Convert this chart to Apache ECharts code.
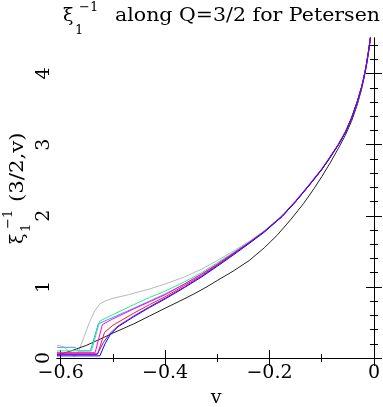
<!DOCTYPE html>
<html>
<head>
<meta charset="utf-8">
<script src="https://cdn.jsdelivr.net/npm/echarts@6/dist/echarts.min.js"></script>
<style>
  html, body { margin: 0; padding: 0; background: #fff; }
  #chart { width: 383px; height: 407px; }
</style>
</head>
<body>
<div id="chart"></div>
<script>
// tick values
const xMajor = [-0.6, -0.4, -0.2, 0];
const xMinor = [-0.5, -0.3, -0.1];
const yMajor = [0, 1, 2, 3, 4];
const yMinor = [0.2, 0.4, 0.6, 0.8, 1.2, 1.4, 1.6, 1.8, 2.2, 2.4, 2.6, 2.8, 3.2, 3.4, 3.6, 3.8, 4.2, 4.4];

// curves, [v, xi^-1]
const grey = [[-0.607,0.18],[-0.595,0.16],[-0.585,0.1],[-0.575,0.02],[-0.568,0.05],[-0.555,0.3],[-0.545,0.5],[-0.535,0.66],[-0.525,0.76],[-0.515,0.8],[-0.5,0.84],[-0.47,0.89],[-0.43,0.97],[-0.4,1.04],[-0.363,1.14],[-0.33,1.25],[-0.3,1.37],[-0.27,1.5],[-0.239,1.64],[-0.21,1.79],[-0.176,2.0],[-0.15,2.2],[-0.125,2.42],[-0.1,2.65],[-0.085,2.81],[-0.068,3.0],[-0.055,3.17],[-0.043,3.37],[-0.032,3.6],[-0.024,3.8],[-0.02,3.92],[-0.015,4.1],[-0.01,4.33],[-0.006,4.55],[-0.004,4.7]];
const black = [[-0.607,0.04],[-0.58,0.1],[-0.55,0.18],[-0.52,0.28],[-0.5,0.35],[-0.46,0.48],[-0.43,0.59],[-0.4,0.7],[-0.372,0.8],[-0.345,0.9],[-0.325,0.98],[-0.3,1.09],[-0.27,1.22],[-0.239,1.37],[-0.21,1.55],[-0.185,1.73],[-0.159,1.95],[-0.135,2.17],[-0.115,2.38],[-0.1,2.55],[-0.085,2.73],[-0.068,2.95],[-0.055,3.13],[-0.043,3.33],[-0.032,3.56],[-0.024,3.77],[-0.02,3.9],[-0.015,4.08],[-0.01,4.31],[-0.006,4.54],[-0.004,4.7]];
const lightblue = [[-0.607,0.15],[-0.572,0.15],[-0.566,0.1],[-0.543,0.1],[-0.528,0.48],[-0.5,0.57],[-0.46,0.7],[-0.43,0.8],[-0.4,0.9],[-0.363,1.04],[-0.33,1.18],[-0.3,1.32],[-0.27,1.47],[-0.239,1.625],[-0.21,1.78],[-0.176,1.99],[-0.15,2.2],[-0.125,2.42],[-0.1,2.65],[-0.085,2.81],[-0.068,3.0],[-0.055,3.17],[-0.043,3.37],[-0.032,3.6],[-0.024,3.8],[-0.02,3.92],[-0.015,4.1],[-0.01,4.33],[-0.006,4.55],[-0.004,4.7]];
const green = [[-0.607,0.1],[-0.541,0.1],[-0.525,0.52],[-0.5,0.61],[-0.46,0.75],[-0.43,0.85],[-0.4,0.94],[-0.363,1.07],[-0.33,1.2],[-0.3,1.34],[-0.27,1.48],[-0.239,1.63],[-0.21,1.78],[-0.176,1.99],[-0.15,2.2],[-0.125,2.42],[-0.1,2.65],[-0.085,2.81],[-0.068,3.0],[-0.055,3.17],[-0.043,3.37],[-0.032,3.6],[-0.024,3.8],[-0.02,3.92],[-0.015,4.1],[-0.01,4.33],[-0.006,4.55],[-0.004,4.7]];
const magenta = [[-0.607,0.075],[-0.534,0.075],[-0.52,0.47],[-0.5,0.55],[-0.46,0.69],[-0.43,0.79],[-0.4,0.89],[-0.363,1.04],[-0.33,1.18],[-0.3,1.32],[-0.27,1.47],[-0.239,1.625],[-0.21,1.78],[-0.176,1.99],[-0.15,2.2],[-0.125,2.42],[-0.1,2.65],[-0.085,2.81],[-0.068,3.0],[-0.055,3.17],[-0.043,3.37],[-0.032,3.6],[-0.024,3.8],[-0.02,3.92],[-0.015,4.1],[-0.01,4.33],[-0.006,4.55],[-0.004,4.7]];
const red = [[-0.607,0.06],[-0.529,0.06],[-0.516,0.36],[-0.5,0.46],[-0.46,0.63],[-0.43,0.75],[-0.4,0.86],[-0.363,1.02],[-0.33,1.16],[-0.3,1.31],[-0.27,1.46],[-0.239,1.62],[-0.21,1.775],[-0.176,1.99],[-0.15,2.2],[-0.125,2.42],[-0.1,2.65],[-0.085,2.81],[-0.068,3.0],[-0.055,3.17],[-0.043,3.37],[-0.032,3.6],[-0.024,3.8],[-0.02,3.92],[-0.015,4.1],[-0.01,4.33],[-0.006,4.55],[-0.004,4.7]];
const blue = [[-0.607,0.03],[-0.525,0.03],[-0.515,0.2],[-0.505,0.33],[-0.49,0.44],[-0.46,0.58],[-0.43,0.71],[-0.4,0.83],[-0.363,0.99],[-0.33,1.14],[-0.3,1.29],[-0.27,1.445],[-0.239,1.61],[-0.21,1.77],[-0.176,1.99],[-0.15,2.2],[-0.125,2.42],[-0.1,2.65],[-0.085,2.81],[-0.068,3.0],[-0.055,3.17],[-0.043,3.37],[-0.032,3.6],[-0.024,3.8],[-0.02,3.92],[-0.015,4.1],[-0.01,4.33],[-0.006,4.55],[-0.004,4.7]];
const purple = [[-0.607,0.05],[-0.53,0.05],[-0.518,0.22],[-0.505,0.35],[-0.49,0.45],[-0.46,0.59],[-0.43,0.72],[-0.4,0.84],[-0.363,1.0],[-0.33,1.15],[-0.3,1.3],[-0.27,1.455],[-0.239,1.62],[-0.21,1.78],[-0.176,2.0],[-0.15,2.21],[-0.125,2.43],[-0.1,2.66],[-0.085,2.82],[-0.068,3.01],[-0.055,3.18],[-0.043,3.38],[-0.032,3.61],[-0.024,3.81],[-0.02,3.93],[-0.015,4.11],[-0.01,4.34],[-0.006,4.56],[-0.004,4.7]];

const curves = [
  ['grey', grey, '#b8b8b8'],
  ['black', black, '#222222'],
  ['lightblue', lightblue, '#3c9cff'],
  ['green', green, '#2eea80'],
  ['magenta', magenta, '#ff00ff'],
  ['red', red, '#ff1a1a'],
  ['blue', blue, '#0000ff'],
  ['purple', purple, '#7a10d8']
];

const font = 'DejaVu Serif';
var myChart = echarts.init(document.getElementById('chart'));

function xAx(pos, vals, len, withLine, withLabel) {
  return {
    type: 'value', position: pos, min: -0.607, max: 0,
    axisLine: { show: withLine, lineStyle: { color: '#000', width: 1 } },
    axisTick: { show: true, inside: true, length: len, customValues: vals, lineStyle: { color: '#000', width: 1 } },
    axisLabel: {
      show: withLabel, customValues: vals, margin: 6,
      fontFamily: font, fontSize: 19, color: '#000',
      formatter: v => v === 0 ? '0' : String(v).replace('-', '\u2212')
    },
    splitLine: { show: false }
  };
}
function yAx(pos, vals, len, withLine, withLabel) {
  return {
    type: 'value', position: pos, min: 0, max: 4.5,
    axisLine: { show: withLine, lineStyle: { color: '#000', width: 1 } },
    axisTick: { show: true, inside: true, length: len, customValues: vals, lineStyle: { color: '#000', width: 1 } },
    axisLabel: {
      show: withLabel, customValues: vals, margin: 3, rotate: 90,
      fontFamily: font, fontSize: 19, color: '#000'
    },
    splitLine: { show: false }
  };
}

var option = {
  animation: false,
  grid: { left: 57, right: 7, top: 38, bottom: 49 },
  xAxis: [
    xAx('bottom', xMajor, 8, true, true),
    xAx('bottom', xMinor, 4, false, false),
    xAx('top', xMajor, 8, true, false),
    xAx('top', xMinor, 4, false, false)
  ],
  yAxis: [
    yAx('left', yMajor, 8, true, true),
    yAx('left', yMinor, 4, false, false),
    yAx('right', yMajor, 8, true, false),
    yAx('right', yMinor, 4, false, false)
  ],
  series: curves.map(c => ({
    name: c[0], type: 'line', data: c[1], showSymbol: false,
    xAxisIndex: 0, yAxisIndex: 0,
    lineStyle: { color: c[2], width: 1 }
  })),
  graphic: [
    // title
    { type: 'text', x: 63, y: 16, style: { text: '\u03BE', font: '19px ' + font, fill: '#000', verticalAlign: 'middle' } },
    { type: 'text', x: 75, y: 31, style: { text: '1', font: '13px ' + font, fill: '#000', verticalAlign: 'middle' } },
    { type: 'text', x: 79, y: 8, style: { text: '\u22121', font: '13px ' + font, fill: '#000', verticalAlign: 'middle' } },
    { type: 'text', x: 115, y: 16, scaleX: 1.08, style: { text: 'along Q=3/2 for Petersen', font: '19px ' + font, fill: '#000', verticalAlign: 'middle' } },
    // y axis name, read bottom to top
    {
      type: 'group', x: 18, y: 244, rotation: Math.PI / 2,
      children: [
        { type: 'text', x: 0, y: 0, style: { text: '\u03BE', font: '19px ' + font, fill: '#000', verticalAlign: 'middle' } },
        { type: 'text', x: 12, y: 9, style: { text: '1', font: '13px ' + font, fill: '#000', verticalAlign: 'middle' } },
        { type: 'text', x: 15, y: -9, style: { text: '\u22121', font: '13px ' + font, fill: '#000', verticalAlign: 'middle' } },
        { type: 'text', x: 42, y: 0, scaleX: 1.12, style: { text: '(3/2,v)', font: '19px ' + font, fill: '#000', verticalAlign: 'middle' } }
      ]
    },
    // x axis name
    { type: 'text', x: 216, y: 398, style: { text: 'v', font: '19px ' + font, fill: '#000', align: 'center', verticalAlign: 'middle' } }
  ]
};

option && myChart.setOption(option);
</script>
</body>
</html>
